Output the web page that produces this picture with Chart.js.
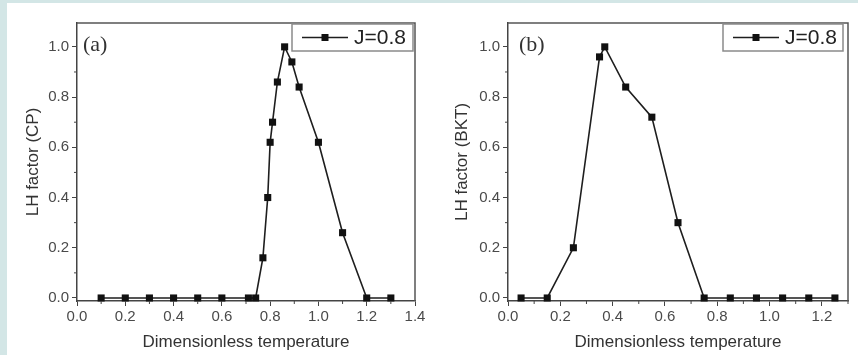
<!DOCTYPE html>
<html>
<head>
<meta charset="utf-8">
<script src="https://cdn.jsdelivr.net/npm/chart.js@4.4.0/dist/chart.umd.min.js"></script>
<style>
  html, body { margin: 0; padding: 0; }
  body { width: 858px; height: 355px; background: #d3e6e6; position: relative; overflow: hidden; }
  canvas { position: absolute; top: 3px; background: #fff; }
  #chartA { left: 7px; }
  #chartB { left: 430px; }
</style>
</head>
<body>
<canvas id="chartA" width="423" height="352"></canvas>
<canvas id="chartB" width="428" height="352"></canvas>
<script>
// (a) CP
var tempA = [0.1, 0.2, 0.3, 0.4, 0.5, 0.6, 0.71, 0.74, 0.77, 0.79, 0.80, 0.81, 0.83, 0.86, 0.89, 0.92, 1.0, 1.1, 1.2, 1.3];
var lhCP = [0, 0, 0, 0, 0, 0, 0, 0, 0.16, 0.40, 0.62, 0.70, 0.86, 1.0, 0.94, 0.84, 0.62, 0.26, 0, 0];

// (b) BKT
var tempB = [0.05, 0.15, 0.25, 0.35, 0.37, 0.45, 0.55, 0.65, 0.75, 0.85, 0.95, 1.05, 1.15, 1.25];
var lhBKT = [0, 0, 0.2, 0.96, 1.0, 0.84, 0.72, 0.3, 0, 0, 0, 0, 0, 0];

var seriesLabel = "J=0.8";
var xTitle = "Dimensionless temperature";

function isMajor(v) {
    return Math.round(v * 10) % 2 === 0;
}

// frame, minor ticks, legend box and panel letter
var extras = {
    id: 'extras',
    afterDraw: function (chart) {
        var ctx = chart.ctx, a = chart.chartArea, o = chart.options.plugins.extras;
        ctx.save();
        // top / right frame
        ctx.strokeStyle = '#555';
        ctx.lineWidth = 1.5;
        ctx.beginPath();
        ctx.moveTo(a.left, a.top);
        ctx.lineTo(a.right, a.top);
        ctx.lineTo(a.right, a.bottom);
        ctx.stroke();

        // minor ticks
        ctx.strokeStyle = '#444';
        ctx.lineWidth = 1;
        chart.scales.x.ticks.forEach(function (t) {
            if (isMajor(t.value)) return;
            var px = chart.scales.x.getPixelForValue(t.value);
            ctx.beginPath();
            ctx.moveTo(px, a.bottom);
            ctx.lineTo(px, a.bottom + 3);
            ctx.stroke();
        });
        chart.scales.y.ticks.forEach(function (t) {
            if (isMajor(t.value) || t.value > 1.0) return;
            var py = chart.scales.y.getPixelForValue(t.value);
            ctx.beginPath();
            ctx.moveTo(a.left, py);
            ctx.lineTo(a.left - 3, py);
            ctx.stroke();
        });

        // legend
        var ds = chart.data.datasets[0];
        var bx = a.right - o.legendRight - o.legendWidth, by = a.top + 1, bw = o.legendWidth, bh = 27;
        ctx.strokeStyle = '#8a8a8a';
        ctx.lineWidth = 1.5;
        ctx.strokeRect(bx, by, bw, bh);
        var cy = by + bh / 2;
        ctx.strokeStyle = ds.borderColor;
        ctx.lineWidth = ds.borderWidth;
        ctx.beginPath();
        ctx.moveTo(bx + 10, cy);
        ctx.lineTo(bx + 56, cy);
        ctx.stroke();
        ctx.fillStyle = ds.pointBackgroundColor;
        ctx.fillRect(bx + 33 - 3.5, cy - 3.5, 7, 7);
        ctx.fillStyle = '#222';
        ctx.font = '21px "Liberation Sans", Arial, sans-serif';
        ctx.textBaseline = 'middle';
        ctx.textAlign = 'left';
        ctx.fillText(ds.label, bx + 62, cy + 1);

        // panel letter
        ctx.font = '22px "Liberation Serif", "Times New Roman", serif';
        ctx.fillStyle = '#333';
        ctx.fillText(o.letter, a.left + o.letterX, a.top + 22);
        ctx.restore();
    }
};

function makeChart(id, xs, ys, xMax, yTitle, yWidth, padRight, letter, letterX, legendRight, legendWidth, yTitlePad) {
    var points = xs.map(function (x, i) { return { x: x, y: ys[i] }; });
    return new Chart(document.getElementById(id).getContext("2d"), {
        type: 'scatter',
        data: {
            datasets: [{
                label: seriesLabel,
                data: points,
                showLine: true,
                borderColor: '#1e1e1e',
                borderWidth: 1.6,
                pointStyle: 'rect',
                pointRadius: 5,
                pointBackgroundColor: '#111',
                pointBorderColor: '#111',
                pointBorderWidth: 0,
                clip: false
            }]
        },
        options: {
            responsive: false,
            animation: false,
            layout: { padding: { top: 20, right: padRight, left: 0, bottom: 0 } },
            plugins: {
                legend: { display: false },
                tooltip: { enabled: false },
                extras: { letter: letter, letterX: letterX, legendRight: legendRight, legendWidth: legendWidth }
            },
            scales: {
                x: {
                    type: 'linear',
                    min: 0,
                    max: xMax,
                    afterFit: function (s) { s.height = 54; },
                    border: { color: '#444', width: 1.5 },
                    grid: { drawOnChartArea: false, drawTicks: true, tickLength: 5,
                        tickColor: function (c) { return isMajor(c.tick.value) ? '#444' : 'rgba(0,0,0,0)'; } },
                    ticks: {
                        stepSize: 0.1,
                        autoSkip: false,
                        maxRotation: 0,
                        includeBounds: false,
                        padding: 2,
                        color: '#4a4a4a',
                        font: { family: '"Liberation Sans", Arial, sans-serif', size: 15 },
                        callback: function (v) { return isMajor(v) ? v.toFixed(1) : ''; }
                    },
                    title: {
                        display: true,
                        text: xTitle,
                        color: '#333',
                        padding: { top: 0, bottom: 2 },
                        font: { family: '"Liberation Sans", Arial, sans-serif', size: 17 }
                    }
                },
                y: {
                    type: 'linear',
                    min: -0.012,
                    max: 1.095,
                    afterFit: function (s) { s.width = yWidth; },
                    border: { color: '#444', width: 1.5 },
                    grid: { drawOnChartArea: false, drawTicks: true, tickLength: 5,
                        tickColor: function (c) { return isMajor(c.tick.value) ? '#444' : 'rgba(0,0,0,0)'; } },
                    ticks: {
                        stepSize: 0.1,
                        autoSkip: false,
                        includeBounds: false,
                        padding: 3,
                        color: '#4a4a4a',
                        font: { family: '"Liberation Sans", Arial, sans-serif', size: 15 },
                        callback: function (v) { return (isMajor(v) && v <= 1.0001) ? v.toFixed(1) : ''; }
                    },
                    title: {
                        display: true,
                        text: yTitle,
                        color: '#333',
                        padding: { top: yTitlePad, bottom: 0 },
                        font: { family: '"Liberation Sans", Arial, sans-serif', size: 17 }
                    }
                }
            }
        },
        plugins: [extras]
    });
}

var chartA = makeChart("chartA", tempA, lhCP, 1.4, "LH factor (CP)", 70, 15, "(a)", 6, 2, 121, 16);
var chartB = makeChart("chartB", tempB, lhBKT, 1.3, "LH factor (BKT)", 78, 10, "(b)", 11, 5, 120, 22);
</script>
</body>
</html>
